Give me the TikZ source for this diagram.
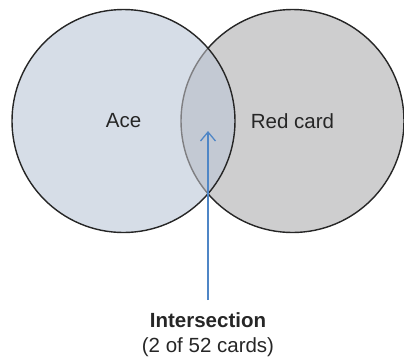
\documentclass[tikz,border=0pt]{standalone}
\usepackage{fontspec}
\setmainfont{Liberation Sans}
\usetikzlibrary{arrows.meta}
\definecolor{leftc}{HTML}{D6DDE7}
\definecolor{rightc}{HTML}{CECECF}
\definecolor{interc}{HTML}{C3C9D3}
\definecolor{arcgray}{HTML}{7F7F82}
\definecolor{arrowblue}{HTML}{4F86C6}
\tikzset{
  venn/.style={circle, minimum size=223pt, inner sep=0pt},
  lbl/.style={font=\fontsize{20.5}{25}\selectfont, text=black!85},
}
\begin{document}
\begin{tikzpicture}[x=1pt,y=-1pt]
\useasboundingbox (0,0) rectangle (404,360);
\coordinate (cL) at (123.5,121);
\coordinate (cR) at (292.5,121);
\node[venn, fill=rightc, draw=black!85, line width=1.4pt] (red) at (cR) {};
\node[venn, fill=leftc] (ace) at (cL) {};
\begin{scope}
  \clip (cL) circle (111.5);
  \fill[interc] (cR) circle (111.5);
  \draw[arcgray, line width=1.4pt] (cR) circle (111.5);
\end{scope}
\draw[black!85, line width=1.4pt] (cL) circle (111.5);
\node[lbl] (acet) at (cL) {Ace};
\node[lbl] (redt) at (cR) {Red card};
\coordinate (tip) at (208,131);
\node[lbl, align=center, anchor=north, inner sep=0pt, outer ysep=13pt] (inter) at (208,300)
  {\textbf{Intersection}\\(2 of 52 cards)};
\draw[arrowblue, line width=1.3pt, -{Straight Barb[length=9pt,width=15pt,line width=1.3pt]}] (inter.north) -- (tip);
\end{tikzpicture}
\end{document}
